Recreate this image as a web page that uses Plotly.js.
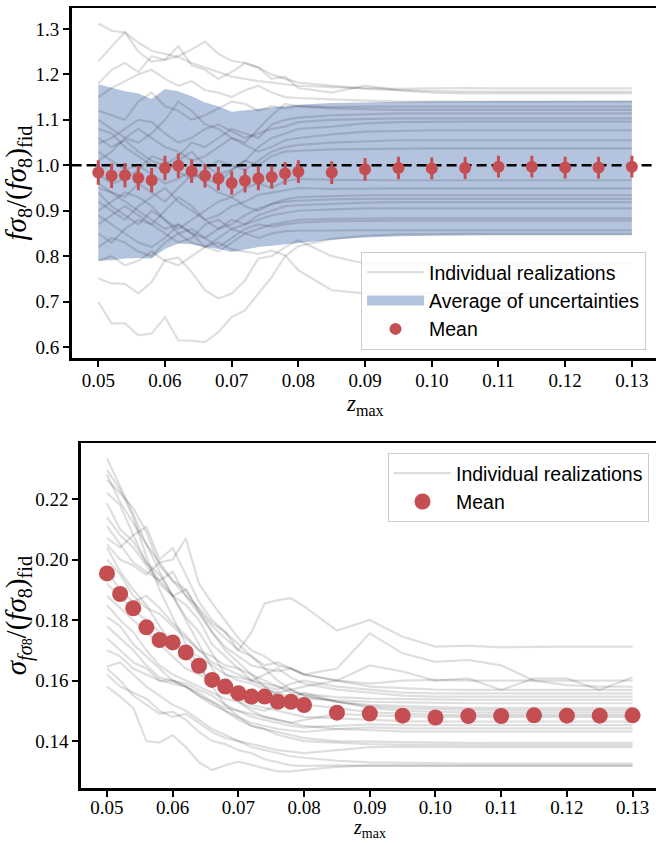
<!DOCTYPE html>
<html>
<head>
<meta charset="utf-8">
<script src="https://cdn.plot.ly/plotly-3.0.1.min.js"></script>
<style>
html,body{margin:0;padding:0;background:#fff;overflow:hidden;}
#chart{width:656px;height:843px;}
</style>
</head>
<body>
<div id="chart"></div>
<script>
// ---------- DATA ----------
const zmax = [0.050,0.052,0.054,0.056,0.058,0.060,0.062,0.064,0.066,0.068,0.070,0.072,0.074,0.076,0.078,0.080,0.085,0.090,0.095,0.100,0.105,0.110,0.115,0.120,0.125,0.130];

const meanTop = [0.984,0.977,0.978,0.972,0.967,0.994,0.999,0.987,0.977,0.971,0.961,0.966,0.971,0.974,0.982,0.986,0.984,0.991,0.994,0.993,0.994,0.997,0.997,0.995,0.995,0.997];
const errTop  = [0.027,0.027,0.027,0.027,0.027,0.027,0.027,0.026,0.026,0.026,0.026,0.026,0.026,0.025,0.025,0.025,0.025,0.025,0.025,0.024,0.024,0.024,0.024,0.024,0.024,0.024];

const bandUpper = [1.178,1.170,1.163,1.158,1.146,1.168,1.163,1.152,1.138,1.130,1.118,1.121,1.124,1.128,1.131,1.133,1.137,1.139,1.140,1.141,1.141,1.141,1.142,1.142,1.142,1.142];
const bandLower = [0.790,0.791,0.795,0.796,0.795,0.816,0.828,0.826,0.820,0.816,0.809,0.815,0.820,0.823,0.826,0.830,0.836,0.841,0.844,0.845,0.846,0.846,0.846,0.846,0.846,0.846];

const refValue = 1.0;

const realizTop = [
 [1.312,1.296,1.292,1.270,1.252,1.245,1.238,1.225,1.215,1.205,1.195,1.190,1.185,1.182,1.178,1.175,1.172,1.170,1.168,1.169,1.170,1.169,1.169,1.169,1.169,1.169],
 [1.229,1.262,1.293,1.250,1.228,1.232,1.240,1.255,1.272,1.245,1.230,1.225,1.215,1.200,1.190,1.182,1.175,1.168,1.165,1.163,1.162,1.162,1.162,1.162,1.162,1.162],
 [1.180,1.210,1.225,1.205,1.240,1.232,1.262,1.220,1.210,1.190,1.205,1.225,1.215,1.190,1.195,1.170,1.160,1.175,1.165,1.160,1.158,1.158,1.158,1.158,1.158,1.158],
 [1.150,1.170,1.185,1.200,1.210,1.190,1.175,1.185,1.165,1.160,1.150,1.165,1.175,1.160,1.150,1.148,1.145,1.142,1.140,1.140,1.140,1.140,1.140,1.140,1.140,1.140],
 [1.120,1.110,1.100,1.140,1.160,1.130,1.120,1.100,1.110,1.125,1.140,1.135,1.120,1.130,1.125,1.130,1.128,1.129,1.129,1.129,1.129,1.129,1.129,1.129,1.129,1.129],
 [1.100,1.080,1.060,1.050,1.070,1.100,1.140,1.120,1.090,1.080,1.060,1.050,1.080,1.110,1.135,1.130,1.125,1.123,1.122,1.122,1.122,1.122,1.122,1.122,1.122,1.122],
 [1.060,1.040,1.055,1.030,1.010,1.000,1.020,1.050,1.040,1.060,1.080,1.070,1.060,1.090,1.100,1.105,1.110,1.112,1.114,1.114,1.114,1.114,1.114,1.114,1.114,1.114],
 [1.048,1.060,1.080,1.100,1.095,1.070,1.050,1.060,1.080,1.090,1.075,1.060,1.070,1.080,1.085,1.095,1.100,1.102,1.103,1.103,1.103,1.103,1.103,1.103,1.103,1.103],
 [1.080,1.070,1.040,1.020,1.000,0.990,1.010,1.030,1.000,0.980,0.990,1.010,1.040,1.060,1.070,1.080,1.085,1.092,1.095,1.096,1.096,1.096,1.096,1.096,1.096,1.096],
 [1.010,1.030,1.060,1.080,1.060,1.040,1.030,1.010,1.020,1.040,1.060,1.045,1.030,1.040,1.055,1.060,1.068,1.074,1.076,1.077,1.077,1.077,1.077,1.077,1.077,1.077],
 [0.980,0.960,0.970,0.990,1.020,1.010,0.985,0.970,0.990,1.010,1.000,0.990,1.010,1.030,1.040,1.045,1.050,1.053,1.055,1.055,1.055,1.055,1.055,1.055,1.055,1.055],
 [0.950,0.940,0.930,0.960,0.940,0.920,0.950,0.980,0.970,0.960,0.990,1.010,1.000,1.020,1.030,1.032,1.035,1.036,1.037,1.037,1.037,1.037,1.037,1.037,1.037,1.037],
 [1.030,1.010,0.990,1.000,0.980,0.960,0.970,0.990,0.960,0.940,0.930,0.950,0.960,0.950,0.965,0.970,0.968,0.967,0.967,0.967,0.967,0.967,0.967,0.967,0.967,0.967],
 [0.920,0.900,0.880,0.910,0.930,0.950,0.920,0.900,0.880,0.890,0.910,0.920,0.935,0.940,0.945,0.950,0.948,0.949,0.949,0.949,0.949,0.949,0.949,0.949,0.949,0.949],
 [0.900,0.920,0.940,0.930,0.910,0.880,0.860,0.880,0.900,0.920,0.930,0.910,0.900,0.915,0.925,0.930,0.932,0.934,0.934,0.934,0.934,0.934,0.934,0.934,0.934,0.934],
 [0.870,0.890,0.910,0.890,0.870,0.900,0.930,0.910,0.880,0.860,0.870,0.890,0.905,0.915,0.920,0.922,0.925,0.926,0.926,0.926,0.926,0.926,0.926,0.926,0.926,0.926],
 [0.960,0.940,0.920,0.900,0.880,0.860,0.870,0.850,0.840,0.860,0.880,0.870,0.890,0.900,0.910,0.912,0.915,0.918,0.919,0.919,0.919,0.919,0.919,0.919,0.919,0.919],
 [0.850,0.830,0.860,0.880,0.870,0.850,0.830,0.840,0.870,0.880,0.860,0.870,0.880,0.890,0.895,0.900,0.903,0.905,0.905,0.905,0.905,0.905,0.905,0.905,0.905,0.905],
 [0.890,0.870,0.850,0.830,0.820,0.840,0.870,0.850,0.820,0.810,0.830,0.850,0.860,0.870,0.875,0.880,0.882,0.883,0.883,0.883,0.883,0.883,0.883,0.883,0.883,0.883],
 [0.820,0.840,0.830,0.810,0.800,0.830,0.850,0.860,0.840,0.820,0.840,0.860,0.870,0.865,0.870,0.874,0.877,0.878,0.878,0.878,0.878,0.878,0.878,0.878,0.878,0.878],
 [0.940,0.910,0.890,0.870,0.900,0.880,0.850,0.830,0.820,0.840,0.860,0.850,0.840,0.850,0.855,0.856,0.857,0.857,0.857,0.857,0.857,0.857,0.857,0.857,0.857,0.857],
 [0.699,0.652,0.652,0.626,0.630,0.666,0.615,0.614,0.611,0.633,0.666,0.681,0.718,0.754,0.800,0.822,0.838,0.845,0.848,0.849,0.849,0.849,0.849,0.849,0.849,0.849],
 [0.751,0.740,0.739,0.718,0.743,0.791,0.797,0.765,0.725,0.707,0.718,0.747,0.795,0.800,0.820,0.835,0.800,0.784,0.784,0.784,0.784,0.784,0.784,0.784,0.784,0.784],
 [0.790,0.800,0.780,0.790,0.810,0.790,0.780,0.800,0.820,0.830,0.815,0.810,0.805,0.812,0.802,0.769,0.725,0.718,0.718,0.718,0.718,0.718,0.718,0.718,0.718,0.718]
];

const meanBottom = [0.1954,0.1886,0.1839,0.1776,0.1734,0.1726,0.1693,0.1649,0.1602,0.1580,0.1558,0.1547,0.1547,0.1530,0.1530,0.1519,0.1494,0.1491,0.1484,0.1478,0.1483,0.1483,0.1485,0.1484,0.1484,0.1485];

const realizBottom = [
 [0.2334,0.2240,0.2150,0.2050,0.1990,0.1930,0.1880,0.1820,0.1760,0.1710,0.1680,0.1650,0.1640,0.1630,0.1640,0.1620,0.1600,0.1590,0.1600,0.1602,0.1600,0.1600,0.1600,0.1600,0.1600,0.1600],
 [0.2296,0.2230,0.2140,0.2010,0.1900,0.1810,0.1720,0.1650,0.1580,0.1520,0.1480,0.1450,0.1440,0.1430,0.1420,0.1410,0.1400,0.1398,0.1396,0.1395,0.1394,0.1394,0.1394,0.1394,0.1394,0.1394],
 [0.2280,0.2190,0.2120,0.2050,0.1960,0.1880,0.1850,0.1800,0.1720,0.1680,0.1640,0.1620,0.1600,0.1580,0.1560,0.1555,0.1545,0.1540,0.1538,0.1536,0.1536,0.1536,0.1536,0.1536,0.1536,0.1536],
 [0.2263,0.2220,0.2170,0.2090,0.1980,0.1930,0.1900,0.1830,0.1760,0.1700,0.1660,0.1620,0.1580,0.1550,0.1530,0.1520,0.1510,0.1495,0.1490,0.1487,0.1486,0.1486,0.1486,0.1486,0.1486,0.1486],
 [0.2220,0.2180,0.2080,0.1990,0.1950,0.1880,0.1810,0.1760,0.1690,0.1620,0.1600,0.1590,0.1570,0.1560,0.1545,0.1540,0.1535,0.1530,0.1528,0.1526,0.1525,0.1525,0.1525,0.1525,0.1525,0.1525],
 [0.2186,0.2100,0.2060,0.1990,0.1930,0.1880,0.1800,0.1720,0.1640,0.1580,0.1530,0.1500,0.1480,0.1470,0.1460,0.1450,0.1440,0.1435,0.1432,0.1431,0.1431,0.1431,0.1431,0.1431,0.1431,0.1431],
 [0.2140,0.2080,0.2040,0.1980,0.1920,0.1880,0.1900,0.1830,0.1780,0.1740,0.1700,0.1680,0.1650,0.1660,0.1640,0.1620,0.1640,0.1756,0.1690,0.1662,0.1668,0.1650,0.1600,0.1585,0.1580,0.1580],
 [0.2110,0.2050,0.1990,0.1960,0.1930,0.1960,0.1880,0.1840,0.1790,0.1760,0.1700,0.1760,0.1855,0.1866,0.1872,0.1845,0.1765,0.1800,0.1745,0.1712,0.1715,0.1710,0.1712,0.1712,0.1712,0.1712],
 [0.2050,0.2000,0.1980,0.1950,0.1990,0.2000,0.2070,0.1920,0.1856,0.1800,0.1740,0.1700,0.1680,0.1650,0.1640,0.1620,0.1600,0.1580,0.1575,0.1570,0.1569,0.1569,0.1569,0.1569,0.1569,0.1569],
 [0.2070,0.2040,0.2080,0.2108,0.2000,0.2038,0.1950,0.1860,0.1800,0.1760,0.1720,0.1680,0.1640,0.1600,0.1570,0.1550,0.1530,0.1515,0.1508,0.1505,0.1503,0.1502,0.1502,0.1502,0.1502,0.1502],
 [0.2040,0.1960,0.1900,0.1850,0.1780,0.1720,0.1680,0.1640,0.1600,0.1560,0.1540,0.1520,0.1510,0.1500,0.1490,0.1480,0.1475,0.1470,0.1466,0.1464,0.1464,0.1464,0.1464,0.1464,0.1464,0.1464],
 [0.2000,0.1950,0.1880,0.1840,0.1820,0.1780,0.1740,0.1700,0.1660,0.1640,0.1620,0.1600,0.1590,0.1580,0.1570,0.1580,0.1600,0.1650,0.1630,0.1600,0.1607,0.1569,0.1607,0.1607,0.1569,0.1611],
 [0.1960,0.1900,0.1860,0.1880,0.1840,0.1790,0.1750,0.1700,0.1680,0.1650,0.1640,0.1600,0.1580,0.1570,0.1590,0.1600,0.1580,0.1570,0.1560,0.1558,0.1558,0.1558,0.1558,0.1558,0.1558,0.1558],
 [0.1920,0.1880,0.1830,0.1800,0.1760,0.1720,0.1700,0.1680,0.1650,0.1620,0.1610,0.1600,0.1620,0.1640,0.1610,0.1590,0.1570,0.1560,0.1550,0.1547,0.1547,0.1547,0.1547,0.1547,0.1547,0.1547],
 [0.1880,0.1840,0.1800,0.1760,0.1720,0.1680,0.1640,0.1620,0.1600,0.1580,0.1560,0.1550,0.1540,0.1560,0.1570,0.1550,0.1530,0.1520,0.1515,0.1512,0.1510,0.1510,0.1510,0.1510,0.1510,0.1510],
 [0.1850,0.1800,0.1760,0.1700,0.1650,0.1620,0.1600,0.1580,0.1560,0.1540,0.1530,0.1510,0.1500,0.1520,0.1540,0.1560,0.1530,0.1510,0.1500,0.1496,0.1494,0.1494,0.1494,0.1494,0.1494,0.1494],
 [0.1810,0.1780,0.1720,0.1680,0.1640,0.1600,0.1580,0.1550,0.1530,0.1510,0.1500,0.1490,0.1480,0.1470,0.1460,0.1470,0.1490,0.1485,0.1482,0.1480,0.1480,0.1480,0.1480,0.1480,0.1480,0.1480],
 [0.1780,0.1740,0.1700,0.1650,0.1610,0.1600,0.1590,0.1570,0.1550,0.1520,0.1500,0.1480,0.1470,0.1460,0.1450,0.1445,0.1450,0.1455,0.1453,0.1453,0.1453,0.1453,0.1453,0.1453,0.1453,0.1453],
 [0.1740,0.1700,0.1660,0.1640,0.1600,0.1600,0.1580,0.1560,0.1530,0.1500,0.1480,0.1460,0.1450,0.1440,0.1435,0.1430,0.1440,0.1445,0.1442,0.1442,0.1442,0.1442,0.1442,0.1442,0.1442,0.1442],
 [0.1700,0.1680,0.1640,0.1620,0.1600,0.1590,0.1580,0.1550,0.1520,0.1500,0.1470,0.1450,0.1440,0.1420,0.1410,0.1400,0.1395,0.1390,0.1388,0.1387,0.1387,0.1387,0.1387,0.1387,0.1387,0.1387],
 [0.1646,0.1660,0.1620,0.1580,0.1550,0.1520,0.1500,0.1470,0.1440,0.1420,0.1400,0.1390,0.1380,0.1370,0.1365,0.1360,0.1370,0.1380,0.1382,0.1380,0.1380,0.1380,0.1380,0.1380,0.1380,0.1380],
 [0.1620,0.1580,0.1560,0.1540,0.1500,0.1480,0.1490,0.1460,0.1430,0.1410,0.1400,0.1380,0.1370,0.1360,0.1350,0.1345,0.1335,0.1330,0.1328,0.1326,0.1326,0.1326,0.1326,0.1326,0.1326,0.1326],
 [0.1580,0.1547,0.1510,0.1400,0.1395,0.1420,0.1380,0.1330,0.1304,0.1320,0.1332,0.1320,0.1310,0.1300,0.1300,0.1305,0.1315,0.1320,0.1320,0.1320,0.1320,0.1320,0.1320,0.1320,0.1320,0.1320],
 [0.1640,0.1600,0.1550,0.1520,0.1490,0.1497,0.1470,0.1430,0.1400,0.1390,0.1370,0.1360,0.1340,0.1330,0.1320,0.1318,0.1320,0.1318,0.1318,0.1318,0.1318,0.1318,0.1318,0.1318,0.1318,0.1318]
];

const xTickVals = [0.05,0.06,0.07,0.08,0.09,0.10,0.11,0.12,0.13];
const yTickValsTop = [0.6,0.7,0.8,0.9,1.0,1.1,1.2,1.3];
const yTickValsBottom = [0.14,0.16,0.18,0.20,0.22];

// ---------- STYLE ----------
const RED = '#C44E52';
const GRAY = 'rgba(0,0,0,0.13)';
const BAND = 'rgba(76,114,176,0.42)';
const serif = 'Liberation Serif, Times New Roman, serif';
const sans = 'Liberation Sans, Arial, sans-serif';
const W = 656, H = 843;
const xRangeTop = [0.046, 0.046 + (W - 71.6) / 6670];
const xRangeBot = [0.046, 0.046 + (W - 80.7) / 6570];

const traces = [];
// band (fill between lower and upper)
traces.push({x: zmax, y: bandLower, xaxis:'x', yaxis:'y', mode:'lines', line:{width:0, color:BAND}, showlegend:false, hoverinfo:'skip'});
traces.push({x: zmax, y: bandUpper, xaxis:'x', yaxis:'y', mode:'lines', fill:'tonexty', fillcolor:BAND, line:{width:0, color:BAND}, showlegend:false, hoverinfo:'skip'});
// legend swatch for the band (a single undefined point, nothing drawn on the plot)
traces.push({x: [null], y: [null], xaxis:'x', yaxis:'y', mode:'lines', line:{width:14, color:BAND}, name:'Average of uncertainties', legend:'legend', legendrank:2, showlegend:true});
// realizations top
realizTop.forEach((r, i) => {
  traces.push({x: zmax, y: r, xaxis:'x', yaxis:'y', mode:'lines', line:{color:GRAY, width:2.2},
    name:'Individual realizations', legendgroup:'rt', showlegend: i === 0, legend:'legend', legendrank:1});
});
// reference dashed line (spans axis range)
traces.push({x: xRangeTop, y: [refValue, refValue], xaxis:'x', yaxis:'y', mode:'lines', line:{color:'black', width:2.5, dash:'10px,5px'}, showlegend:false, hoverinfo:'skip'});
// mean top
traces.push({x: zmax, y: meanTop, xaxis:'x', yaxis:'y', mode:'markers', marker:{color:RED, size:12},
  error_y:{type:'data', array: errTop, color:RED, thickness:3, width:0}, name:'Mean', legend:'legend', legendrank:3});

// realizations bottom
realizBottom.forEach((r, i) => {
  traces.push({x: zmax, y: r, xaxis:'x2', yaxis:'y2', mode:'lines', line:{color:GRAY, width:2.2},
    name:'Individual realizations', legendgroup:'rb', showlegend: i === 0, legend:'legend2', legendrank:1});
});
traces.push({x: zmax, y: meanBottom, xaxis:'x2', yaxis:'y2', mode:'markers', marker:{color:RED, size:16},
  name:'Mean', legend:'legend2', legendrank:2});

const axisCommon = {
  showgrid:false, zeroline:false, showline:true, linecolor:'black', linewidth:2.5,
  ticks:'outside', ticklen:6, tickwidth:2, tickcolor:'black',
  tickfont:{family:serif, size:19, color:'black'}
};

const layout = {
  width: W, height: H,
  margin:{l:0, r:0, t:0, b:0},
  paper_bgcolor:'white', plot_bgcolor:'white',
  font:{family:serif, color:'black'},
  xaxis: Object.assign({}, axisCommon, {
    domain:[71.6/W, 1], range: xRangeTop, anchor:'y', mirror:true,
    tickvals: xTickVals, tickformat:'.2f', ticklabelstandoff:-2
  }),
  yaxis: Object.assign({}, axisCommon, {
    domain:[1-358/H, 1-8/H], range:[0.576, 1.346], anchor:'x',
    tickvals: yTickValsTop, tickformat:'.1f',
    title:{text:'<i>fσ</i><sub>8</sub>/(<i>fσ</i><sub>8</sub>)<sub>fid</sub>', font:{family:serif, size:29, color:'black'}, standoff:2}
  }),
  xaxis2: Object.assign({}, axisCommon, {
    domain:[80.7/W, 1], range: xRangeBot, anchor:'y2', mirror:true,
    tickvals: xTickVals, tickformat:'.2f', ticklabelstandoff:-5
  }),
  yaxis2: Object.assign({}, axisCommon, {
    domain:[1-788/H, 1-443.3/H], range:[0.1245, 0.2384], anchor:'x2',
    tickvals: yTickValsBottom, tickformat:'.2f',
    title:{text:'<i>σ</i><sub><i>fσ</i><span style="font-size:14px">8</span></sub>/(<i>fσ</i><sub>8</sub>)<sub>fid</sub>', font:{family:serif, size:29, color:'black'}, standoff:2}
  }),
  annotations:[
    {text:'<i>z</i><sub>max</sub>', xref:'paper', yref:'paper', x:365/W, y:1-405/H, xanchor:'center', yanchor:'middle',
     showarrow:false, font:{family:serif, size:23, color:'black'}},
    {text:'<i>z</i><sub>max</sub>', xref:'paper', yref:'paper', x:370/W, y:1-842/H, xanchor:'center', yanchor:'bottom',
     showarrow:false, font:{family:serif, size:20, color:'black'}, borderpad:0}
  ],
  legend:{x:361/W, y:1-252/H, xanchor:'left', yanchor:'top', bgcolor:'rgba(255,255,255,0.8)',
    bordercolor:'#cccccc', borderwidth:1, font:{family:sans, size:19.5, color:'black'}, tracegroupgap:0, itemwidth:57},
  legend2:{x:388/W, y:1-453/H, xanchor:'left', yanchor:'top', bgcolor:'rgba(255,255,255,0.8)',
    bordercolor:'#cccccc', borderwidth:1, font:{family:sans, size:19.5, color:'black'}, tracegroupgap:0, itemwidth:57},
  showlegend:true
};

Plotly.newPlot('chart', traces, layout, {displayModeBar:false, staticPlot:true});
</script>
</body>
</html>
